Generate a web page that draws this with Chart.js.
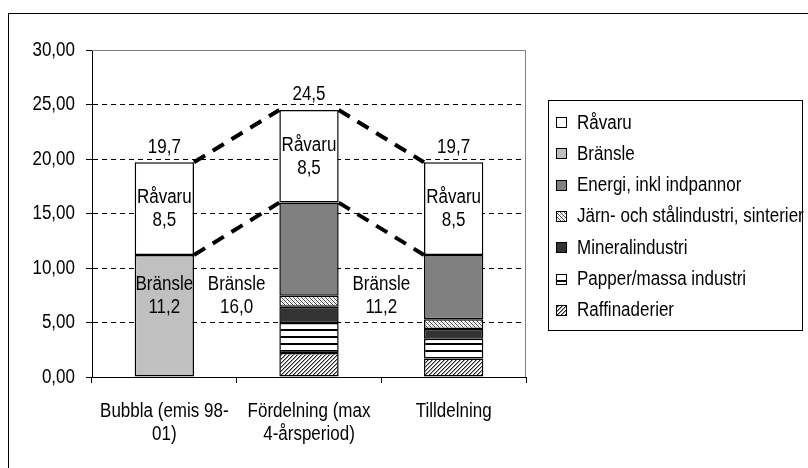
<!DOCTYPE html>
<html lang="sv">
<head>
<meta charset="UTF-8" />
<title>Bubbla, fördelning och tilldelning</title>
<style>
  body { margin: 0; background: #fff; }
  canvas { display: block; }
</style>
</head>
<body>
<canvas id="myChart" width="808" height="468"></canvas>
<script src="https://cdn.jsdelivr.net/npm/chart.js"></script>
<script>
  // data (Mton)
  const categories = [["Bubbla (emis 98-", "01)"], ["Fördelning (max", "4-årsperiod)"], ["Tilldelning"]];
  const raffinaderier = [null, 2.2, 1.7];
  const papper = [null, 2.75, 1.8];
  const mineral = [null, 1.5, 0.9];
  const jarn = [null, 1.0, 0.9];
  const energi = [null, 8.55, 5.9];
  const bransle = [11.2, null, null];
  const ravaru = [8.5, 8.5, 8.5];
  const legendOrder = ["Råvaru", "Bränsle", "Energi, inkl indpannor", "Järn- och stålindustri, sinterier",
    "Mineralindustri", "Papper/massa industri", "Raffinaderier"];
  const bransleLabelLevel = 7.5;

  // no narrow font installed, so squeeze Liberation Sans a bit
  const FONT = "20px 'Liberation Sans', Arial, sans-serif";
  const SQUEEZE = 0.85;
  const canvas = document.getElementById("myChart");
  const ctx = canvas.getContext("2d");

  function txt(c, s, x, y, align) {
    c.save();
    c.translate(x, y);
    c.scale(SQUEEZE, 1);
    c.font = FONT;
    c.fillStyle = "#000";
    c.textBaseline = "middle";
    c.textAlign = align || "center";
    c.fillText(s, 0, 0);
    c.restore();
  }

  function makePattern(size, draw) {
    const c = document.createElement("canvas");
    c.width = c.height = size;
    const g = c.getContext("2d");
    g.fillStyle = "#fff";
    g.fillRect(0, 0, size, size);
    draw(g, size);
    return ctx.createPattern(c, "repeat");
  }

  const paperFill = makePattern(7, (g, s) => { g.fillStyle = "#000"; g.fillRect(0, 0, s, 2); });
  const jarnFill = makePattern(4, (g) => {
    g.fillStyle = "#444";
    g.fillRect(0, 0, 1, 1); g.fillRect(1, 1, 1, 1); g.fillRect(2, 2, 1, 1); g.fillRect(3, 3, 1, 1);
    g.fillStyle = "#bbb";
    g.fillRect(2, 0, 1, 1); g.fillRect(0, 2, 1, 1);
  });
  const raffFill = makePattern(4, (g) => {
    for (let i = 0; i < 4; i++) {
      g.fillStyle = "#222"; g.fillRect(3 - i, i, 1, 1);
      g.fillStyle = "#999"; g.fillRect((4 - i) % 4, i, 1, 1);
    }
  });

  const fmt1 = (v) => v.toFixed(1).replace(".", ",");
  const fmt2 = (v) => v.toFixed(2).replace(".", ",");

  const decorations = {
    id: "decorations",
    beforeDraw(chart) {
      const c = chart.ctx;
      c.save();
      c.strokeStyle = "#000";
      c.lineWidth = 1;
      c.strokeRect(8.5, 13.5, 1000, 1000);
      c.restore();
    },
    beforeDatasetsDraw(chart) {
      const { ctx: c, chartArea: a } = chart;
      c.save();
      c.strokeStyle = "#808080";
      c.lineWidth = 1;
      c.beginPath();
      c.moveTo(a.left, a.top + 0.5);
      c.lineTo(a.right - 0.5, a.top + 0.5);
      c.lineTo(a.right - 0.5, a.bottom);
      c.stroke();
      c.restore();
    },
    afterDatasetsDraw(chart) {
      const c = chart.ctx;
      const top = chart.getDatasetMeta(chart.data.datasets.length - 1).data;
      // series lines between the stacks
      c.save();
      c.strokeStyle = "#000";
      c.lineWidth = 4;
      c.setLineDash([13, 9]);
      for (let i = 0; i < top.length - 1; i++) {
        const a = top[i], b = top[i + 1];
        ["y", "base"].forEach((k) => {
          c.beginPath();
          c.moveTo(a.x + a.width / 2, a[k]);
          c.lineTo(b.x - b.width / 2, b[k]);
          c.stroke();
        });
      }
      c.restore();

      // data labels
      const y = chart.scales.y;
      top.forEach((bar, i) => {
        const mid = (bar.y + bar.base) / 2;
        const total = chart.data.datasets.reduce((s, d) => s + (d.data[i] || 0), 0);
        const sub = total - ravaru[i];
        txt(c, "Råvaru", bar.x, mid - 11);
        txt(c, fmt1(ravaru[i]), bar.x, mid + 12);
        txt(c, fmt1(total), bar.x, bar.y - 15);
        const bx = i === 0 ? bar.x : (bar.x + top[i - 1].x) / 2;
        const by = y.getPixelForValue(bransleLabelLevel);
        txt(c, "Bränsle", bx, by - 11);
        txt(c, fmt1(sub), bx, by + 12);
      });
    },
    afterDraw(chart) {
      const c = chart.ctx;
      const { x: xs, y: ys } = chart.scales;
      // axis labels
      ys.ticks.forEach((t, i) => txt(c, fmt2(t.value), ys.right - 17, ys.getPixelForTick(i), "right"));
      categories.forEach((lines, i) => {
        const cx = xs.getPixelForTick(i);
        lines.forEach((s, j) => txt(c, s, cx, xs.top + 34 + j * 23));
      });

      // legend
      const ds = chart.data.datasets;
      c.save();
      c.strokeStyle = "#000";
      c.lineWidth = 1;
      c.strokeRect(548.5, 100.5, 254, 230);
      legendOrder.forEach((name, i) => {
        const d = ds.find((s) => s.label === name);
        const cy = 122 + i * 31.3;
        const by = Math.round(cy - 5);
        c.fillStyle = d.backgroundColor;
        c.fillRect(556, by, 10, 10);
        c.strokeRect(556.5, by + 0.5, 10, 10);
        txt(c, name, 577, cy + 1, "left");
      });
      c.restore();
    }
  };

  new Chart(canvas, {
    type: "bar",
    data: {
      labels: categories,
      datasets: [
        { label: "Raffinaderier", data: raffinaderier, backgroundColor: raffFill },
        { label: "Papper/massa industri", data: papper, backgroundColor: paperFill },
        { label: "Mineralindustri", data: mineral, backgroundColor: "#333333" },
        { label: "Järn- och stålindustri, sinterier", data: jarn, backgroundColor: jarnFill },
        { label: "Energi, inkl indpannor", data: energi, backgroundColor: "#808080" },
        { label: "Bränsle", data: bransle, backgroundColor: "#c0c0c0" },
        { label: "Råvaru", data: ravaru, backgroundColor: "#ffffff" },
      ],
    },
    options: {
      responsive: false,
      animation: false,
      devicePixelRatio: 1,
      layout: { padding: { top: 50, right: 282, bottom: 0, left: 0 } },
      plugins: { legend: { display: false }, tooltip: { enabled: false } },
      datasets: {
        bar: {
          barPercentage: 0.41,
          categoryPercentage: 1,
          borderColor: "#000",
          borderWidth: 1.5,
          borderSkipped: false,
        },
      },
      scales: {
        x: {
          stacked: true,
          grid: { offset: true, drawOnChartArea: false, tickLength: 6, color: "#000" },
          border: { color: "#000", width: 1 },
          ticks: { font: { size: 18 }, color: "rgba(0,0,0,0)", padding: 16, maxRotation: 0 },
          afterFit: (s) => { s.height = 91; },
        },
        y: {
          stacked: true,
          min: 0,
          max: 30,
          ticks: { stepSize: 5, callback: fmt2, font: { size: 16 }, color: "rgba(0,0,0,0)", padding: 10 },
          grid: {
            color: (c) => (c.tick && (c.tick.value === 0 || c.tick.value === 30) ? "rgba(0,0,0,0)" : "#000"),
            tickColor: "#000",
            tickLength: 6,
            lineWidth: 1,
          },
          border: { color: "#000", width: 1, dash: [5, 4] },
          afterFit: (s) => { s.width = 92; },
        },
      },
    },
    plugins: [decorations],
  });
</script>
</body>
</html>
